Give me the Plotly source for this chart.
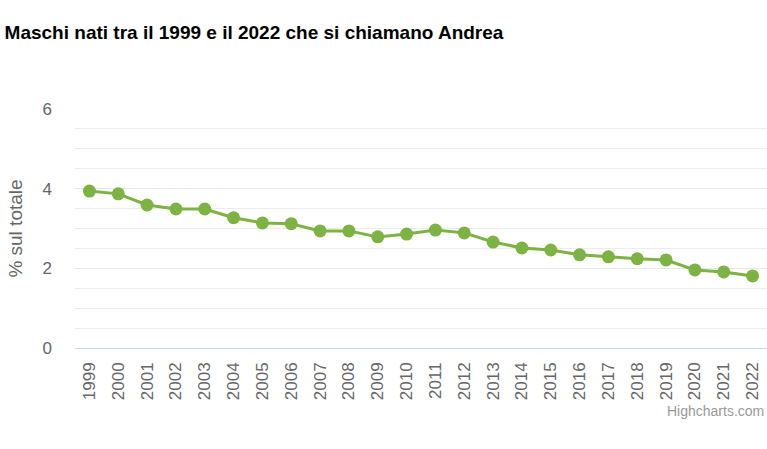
import plotly.graph_objects as go

years = [str(y) for y in range(1999, 2023)]
values = [3.94, 3.87, 3.59, 3.49, 3.49, 3.27, 3.14, 3.12, 2.94, 2.94, 2.79, 2.86,
          2.96, 2.89, 2.66, 2.51, 2.46, 2.34, 2.29, 2.24, 2.21, 1.96, 1.91, 1.81]
title = "Maschi nati tra il 1999 e il 2022 che si chiamano Andrea"
y_title = "% sul totale"

fig = go.Figure(go.Scatter(
    x=years, y=values, mode="lines+markers",
    line=dict(color="#7cb342", width=3),
    marker=dict(color="#7cb342", size=13),
    hoverinfo="x+y",
    cliponaxis=False,
))

fig.update_layout(
    width=767, height=449,
    paper_bgcolor="white", plot_bgcolor="white",
    margin=dict(l=75, r=0, t=109, b=101),
    font=dict(family="Liberation Sans, Arial, sans-serif", color="#666666"),
    title=dict(text="<b>" + title + "</b>", x=0.006, xanchor="left", y=0.929, yanchor="middle",
               font=dict(size=19, color="#000000")),
    showlegend=False,
    annotations=[dict(text="Highcharts.com", xref="paper", yref="paper", x=1.0, y=-0.2625,
                      xanchor="right", yanchor="middle", showarrow=False, xshift=-1,
                      font=dict(size=14, color="#999999"))],
)
fig.update_xaxes(
    type="category", range=[-0.5, len(years) - 0.5],
    tickangle=-90, tickfont=dict(size=17, color="#666666"),
    showgrid=False, showline=False, ticks="", zeroline=False,
    ticklabelstandoff=10,
)
fig.update_yaxes(
    range=[0, 6], dtick=2, tick0=0, tickfont=dict(size=17, color="#666666"),
    showgrid=True, gridcolor="#e6e6e6", gridwidth=1,
    minor=dict(dtick=0.5, showgrid=True, gridcolor="#ececec", gridwidth=1),
    zeroline=True, zerolinecolor="#ccd6eb", zerolinewidth=1,
    ticks="", ticklabelstandoff=22,
    title=dict(text=y_title, font=dict(size=19, color="#666666"), standoff=14),
)

fig.write_html("out.html")
